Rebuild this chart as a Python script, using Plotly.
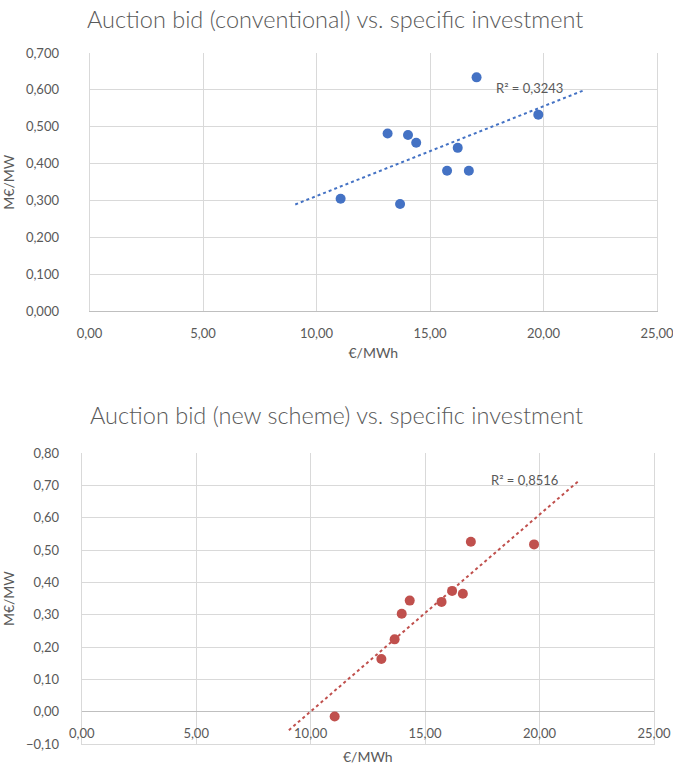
import numpy as np
import plotly.graph_objects as go

# ---- data ----
x_conv = [11.06, 13.13, 13.68, 14.03, 14.39, 15.75, 16.22, 16.71, 17.05, 19.77]
y_conv = [0.305, 0.482, 0.291, 0.478, 0.457, 0.381, 0.443, 0.381, 0.634, 0.533]
r2_conv = "R² = 0,3243"

x_new = [11.05, 13.09, 13.67, 13.98, 14.33, 15.72, 16.18, 16.65, 17.00, 19.76]
y_new = [-0.015, 0.163, 0.224, 0.303, 0.344, 0.340, 0.374, 0.365, 0.526, 0.518]
r2_new = "R² = 0,8516"

title_top = "Auction bid (conventional) vs. specific investment"
title_bot = "Auction bid (new scheme) vs. specific investment"
x_title = "€/MWh"
y_title = "M€/MW"

BLUE = "#4472C4"
RED = "#C0504D"
GRID = "#D9D9D9"
TXT = "#595959"
FONT = "Lato"


def trend(xs, ys):
    m, b = np.polyfit(xs, ys, 1)
    tx = np.array([min(xs) - 2, max(xs) + 2])
    return tx, m * tx + b


fig = go.Figure()

tx, ty = trend(x_conv, y_conv)
fig.add_trace(go.Scatter(x=tx, y=ty, mode="lines", line=dict(color=BLUE, width=2, dash="dot"),
                         xaxis="x", yaxis="y", showlegend=False, hoverinfo="skip"))
fig.add_trace(go.Scatter(x=x_conv, y=y_conv, mode="markers", marker=dict(color=BLUE, size=10),
                         xaxis="x", yaxis="y", showlegend=False))

tx2, ty2 = trend(x_new, y_new)
fig.add_trace(go.Scatter(x=tx2, y=ty2, mode="lines", line=dict(color=RED, width=2, dash="dot"),
                         xaxis="x2", yaxis="y2", showlegend=False, hoverinfo="skip"))
fig.add_trace(go.Scatter(x=x_new, y=y_new, mode="markers", marker=dict(color=RED, size=10),
                         xaxis="x2", yaxis="y2", showlegend=False))

W, H = 673, 772


def px_x(p):
    return p / W


def px_y(p):
    return 1 - p / H


tickfont = dict(family=FONT, size=13, color=TXT)
titlefont = dict(family=FONT, size=14, color=TXT)
headfont = dict(family=FONT, size=23.5, color=TXT, weight=300)

fig.update_layout(
    width=W, height=H,
    margin=dict(l=0, r=0, t=0, b=0),
    paper_bgcolor="white", plot_bgcolor="white",
    separators=",.",
    font=dict(family=FONT, color=TXT),
    xaxis=dict(domain=[px_x(89.6), px_x(657)], anchor="y", range=[0, 25], dtick=5, tickformat=".2f",
               showgrid=True, gridcolor=GRID, gridwidth=1, zeroline=False, automargin=False,
               showline=True, linecolor="#BFBFBF", linewidth=1, ticklabeloverflow="allow",
               tickfont=tickfont, ticklabelstandoff=10,
               title=dict(text=x_title, font=titlefont, standoff=8)),
    yaxis=dict(domain=[px_y(311.4), px_y(53)], anchor="x", range=[0, 0.7], dtick=0.1, tickformat=".3f",
               showgrid=True, gridcolor=GRID, gridwidth=1, zeroline=False, automargin=False,
               showline=True, mirror=True, linecolor=GRID, linewidth=1, ticklabeloverflow="allow",
               tickfont=tickfont, ticklabelstandoff=27,
               title=dict(text=y_title, font=titlefont, standoff=8)),
    xaxis2=dict(domain=[px_x(81.7), px_x(654)], anchor="y2", range=[0, 25], dtick=5, tickformat=".2f",
                showgrid=True, gridcolor=GRID, gridwidth=1, zeroline=False, automargin=False,
                showline=True, linecolor=GRID, linewidth=1, ticklabeloverflow="allow",
                tickfont=tickfont, ticklabelposition="inside", ticklabelstandoff=3,
                title=dict(text=x_title, font=titlefont, standoff=12)),
    yaxis2=dict(domain=[px_y(744), px_y(453.3)], anchor="x2", range=[-0.1, 0.8], dtick=0.1, tickformat=".2f",
                showgrid=True, gridcolor=GRID, gridwidth=1, zeroline=True, zerolinecolor="#BFBFBF",
                zerolinewidth=1, showline=True, mirror=True, linecolor=GRID, linewidth=1,
                automargin=False, ticklabeloverflow="allow",
                tickfont=tickfont, ticklabelstandoff=19,
                title=dict(text=y_title, font=titlefont, standoff=8)),
    annotations=[
        dict(text=title_top, x=px_x(335), y=px_y(19), xref="paper", yref="paper", showarrow=False,
             font=headfont, xanchor="center", yanchor="middle"),
        dict(text=title_bot, x=px_x(336), y=px_y(415), xref="paper", yref="paper", showarrow=False,
             font=headfont, xanchor="center", yanchor="middle"),
        dict(text=r2_conv, x=17.8, y=0.605, xref="x", yref="y", showarrow=False,
             font=dict(family=FONT, size=13, color=TXT), xanchor="left", yanchor="middle"),
        dict(text=r2_new, x=17.8, y=0.717, xref="x2", yref="y2", showarrow=False,
             font=dict(family=FONT, size=13, color=TXT), xanchor="left", yanchor="middle"),
    ],
)

# remove the browser's default body margin so the 673x772 figure fills the window exactly
fig.write_html("out.html", config={"displayModeBar": False},
               post_script="document.body.style.margin='0';document.body.style.overflow='hidden';")
